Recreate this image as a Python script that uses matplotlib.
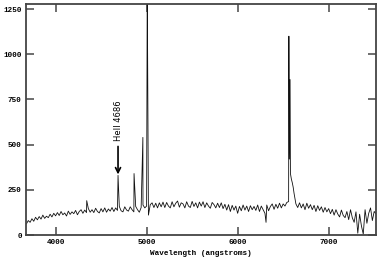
import numpy as np
import matplotlib
matplotlib.use("Agg")
import matplotlib.pyplot as plt

# ---- data ----
wl_start, wl_step = 3680, 20
cont_flux = [
    62, 80, 70, 90, 76, 98,
    84, 102, 88, 110, 92, 104, 96, 115, 100, 120,
    106, 124, 108, 130, 112, 122, 105, 132, 114, 128,
    118, 136, 112, 130, 140, 120, 138, 124, 146, 126,
    140, 124, 148, 130, 122, 146, 128, 150, 126, 144,
    132, 152, 130, 150, 136, 158, 134, 128, 156, 138,
    132, 156, 140, 128, 158, 140, 126, 152, 166, 150,
    160, 110, 168, 178, 152, 176, 150, 178, 156, 182,
    152, 180, 160, 150, 184, 156, 176, 188, 154, 178,
    172, 150, 184, 160, 152, 186, 158, 178, 150, 182,
    160, 184, 152, 178, 160, 148, 180, 168, 150, 176,
    152, 178, 146, 170, 138, 168, 130, 164, 138, 160,
    120, 158, 134, 166, 138, 160, 130, 162, 140, 158,
    136, 166, 130, 160, 140, 120, 166, 134, 158, 172,
    142, 170, 148, 176, 150, 172, 160, 180, 185, 340,
    290, 230, 172, 152, 178, 150, 172, 140, 176, 148,
    168, 140, 164, 130, 162, 136, 156, 126, 152, 128,
    146, 118, 142, 110, 140, 116, 100, 138, 108, 96,
    130, 85, 140, 95, 70, 128, 10, 115, 50, 5,
    140, 65, 120, 150, 80, 130, 118,
]
line_wl = [4342, 4686, 4862, 4959, 5007, 6312, 6563, 6568, 6576, 6590, 6610]
line_flux = [190, 330, 340, 540, 1400, 70, 1100, 420, 860, 310, 265]

xticks = [4000, 5000, 6000, 7000]
yticks = [0, 250, 500, 750, 1000, 1250]
xlabel = "Wavelength (angstroms)"
annot_text = "HeII 4686"
annot_wl = 4686
arrow_from, arrow_to = 490, 335

# ---- build spectrum ----
cont_wl = wl_start + wl_step * np.arange(len(cont_flux))
wl = np.concatenate([cont_wl, line_wl])
fl = np.concatenate([cont_flux, line_flux])
order = np.argsort(wl, kind="stable")
wl, fl = wl[order], fl[order]

fig = plt.figure(figsize=(3.82, 2.67), dpi=100)
ax = fig.add_axes([26 / 382, 32 / 267, 350 / 382, 231 / 267])
ax.plot(wl, fl, color="#111111", lw=0.6)
ax.set_xlim(3675, 7520)
ax.set_ylim(0, 1278)
ax.set_xticks(xticks)
ax.set_yticks(yticks)

tfont = dict(family="Liberation Mono", weight="bold", size=5.5)
ax.set_xticklabels([str(t) for t in xticks], **tfont)
ax.set_yticklabels([str(t) for t in yticks], **tfont)
ax.set_xlabel(xlabel, labelpad=3, **tfont)
ax.tick_params(direction="in", length=6, width=1.2, top=True, right=True,
               color="#555555", pad=3)
for s in ax.spines.values():
    s.set_linewidth(1.3)
    s.set_color("#444444")

ax.annotate("", xy=(annot_wl, arrow_to), xytext=(annot_wl, arrow_from),
            arrowprops=dict(arrowstyle="->", lw=1.2, color="black",
                            mutation_scale=9, shrinkA=0, shrinkB=0))
ax.text(annot_wl, 520, annot_text, rotation=90, ha="center", va="bottom",
        fontsize=6, family="DejaVu Sans")

fig.savefig("out.png", dpi=100)
